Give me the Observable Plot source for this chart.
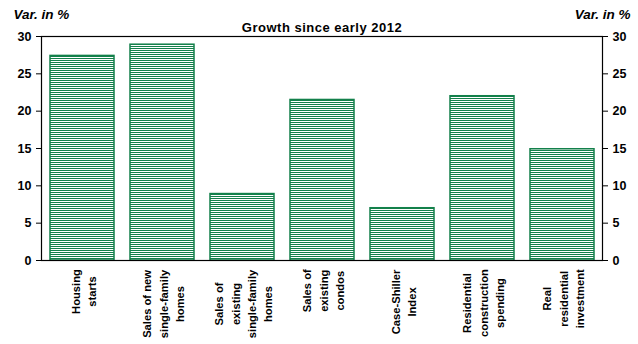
<!DOCTYPE html>
<html>
<head>
<meta charset="utf-8">
<script src="https://cdn.jsdelivr.net/npm/d3@7"></script>
<script src="https://cdn.jsdelivr.net/npm/@observablehq/plot@0.6"></script>
<style>
  html, body { margin: 0; padding: 0; background: #fff; }
  #chart { width: 638px; height: 344px; }
</style>
</head>
<body>
<div id="chart"></div>
<script>
const categories = [
  "Housing\nstarts",
  "Sales of new\nsingle-family\nhomes",
  "Sales of\nexisting\nsingle-family\nhomes",
  "Sales of\nexisting\ncondos",
  "Case-Shiller\nIndex",
  "Residential\nconstruction\nspending",
  "Real\nresidential\ninvestment"
];
const values = [27.4, 28.9, 8.9, 21.5, 7.0, 22.0, 14.9];
const yTicks = [0, 5, 10, 15, 20, 25, 30];
const titleText = ["Growth since early 2012"];
const unitText = ["Var. in %"];

const green = "#13804b";
const font = "'Liberation Sans', Arial, sans-serif";
const data = categories.map((c, i) => ({category: c, value: values[i]}));

const plot = Plot.plot({
  width: 638,
  height: 344,
  marginLeft: 41,
  marginRight: 36,
  marginTop: 36,
  marginBottom: 84,
  style: {fontFamily: font, color: "#000", background: "#fff"},
  x: {domain: categories, paddingInner: 0.2, paddingOuter: 0.1, axis: null},
  y: {domain: [0, 30], axis: null},
  marks: [
    Plot.barY(data, {x: "category", y: "value", fill: "url(#hstripes)", stroke: green, strokeWidth: 1.5}),
    Plot.frame({stroke: "#000", strokeWidth: 1.2}),
    Plot.axisY({anchor: "left", label: null, ticks: yTicks, tickSize: 5, tickPadding: 5, fontSize: 12.5, fontWeight: "bold", stroke: "#000"}),
    Plot.axisY({anchor: "right", label: null, ticks: yTicks, tickSize: 5, tickPadding: 5, fontSize: 12.5, fontWeight: "bold", stroke: "#000"}),
    Plot.text(categories, {x: d => d, text: d => d, frameAnchor: "bottom", rotate: -90,
      textAnchor: "middle", lineAnchor: "middle", lineHeight: 1.45, fontSize: 11.2, fontWeight: "bold",
      fill: "#000"}),
    Plot.text(titleText, {text: d => d, frameAnchor: "top", lineAnchor: "bottom", dy: -4.5,
      fontSize: 13, fontWeight: "bold", fill: "#000"}),
    Plot.text(unitText, {text: d => d, frameAnchor: "top-left", textAnchor: "start", lineAnchor: "bottom",
      dx: -28, dy: -17.5, fontSize: 13.5, fontWeight: "bold", fontStyle: "italic", fill: "#000"}),
    Plot.text(unitText, {text: d => d, frameAnchor: "top-right", textAnchor: "end", lineAnchor: "bottom",
      dx: 28, dy: -17.5, fontSize: 13.5, fontWeight: "bold", fontStyle: "italic", fill: "#000"})
  ]
});

// uniform horizontal stripe pattern
const ns = "http://www.w3.org/2000/svg";
const defs = document.createElementNS(ns, "defs");
const pat = document.createElementNS(ns, "pattern");
pat.setAttribute("id", "hstripes");
pat.setAttribute("patternUnits", "userSpaceOnUse");
pat.setAttribute("width", "8");
pat.setAttribute("height", "2");
const bg = document.createElementNS(ns, "rect");
bg.setAttribute("width", "8"); bg.setAttribute("height", "2"); bg.setAttribute("fill", "#fff");
const ln = document.createElementNS(ns, "rect");
ln.setAttribute("width", "8"); ln.setAttribute("height", "1"); ln.setAttribute("fill", green);
pat.appendChild(bg); pat.appendChild(ln);
defs.appendChild(pat);
plot.insertBefore(defs, plot.firstChild);

document.getElementById("chart").appendChild(plot);

const allTexts = Array.from(plot.querySelectorAll("text"));

// title letter spacing
allTexts.filter(t => t.textContent === titleText[0]).forEach(t => t.style.letterSpacing = "0.5px");

// align x label blocks: top of the block just below the axis, lines centered on each other
const svgTop = plot.getBoundingClientRect().top;
const targetTop = plot.scale("y").apply(0) + 9;
const flat = categories.map(c => c.replace(/\n/g, ""));
allTexts.filter(t => flat.includes(t.textContent)).forEach(t => {
  const r = t.getBoundingClientRect();
  const shift = targetTop - (r.top - svgTop);
  const g = document.createElementNS(ns, "g");
  g.setAttribute("transform", `translate(0,${shift})`);
  t.parentNode.insertBefore(g, t);
  g.appendChild(t);
});
</script>
</body>
</html>
